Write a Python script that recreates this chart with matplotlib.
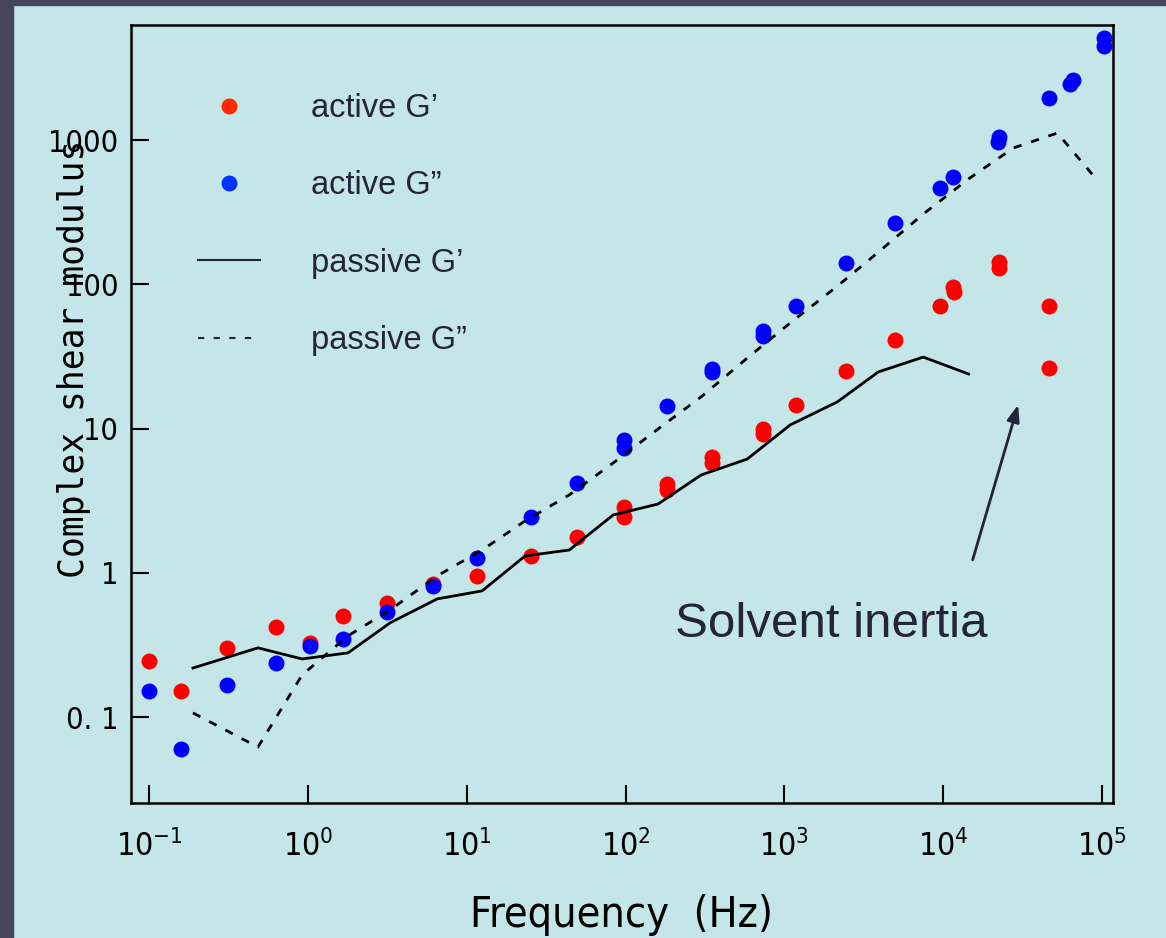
import numpy as np
import matplotlib
matplotlib.use("Agg")
import matplotlib.pyplot as plt
from matplotlib import font_manager
from matplotlib.font_manager import FontProperties
from matplotlib.lines import Line2D
from matplotlib.patches import Rectangle

# === data ===
freq_active_gp = [0.1, 0.159, 0.31, 0.63, 1.03, 1.67, 3.16, 6.1, 11.6, 25.5, 49.5,
                  98, 98, 183, 183, 351, 351, 736, 736, 1186, 2450, 4930, 9570,
                  11500, 11700, 22300, 22400, 46200, 46200]
active_gp = [0.245, 0.152, 0.30, 0.42, 0.328, 0.50, 0.62, 0.84, 0.95, 1.31, 1.78,
             2.86, 2.44, 4.13, 3.75, 6.35, 5.78, 9.93, 9.18, 14.6, 25, 41, 70.8,
             95.7, 88.5, 143, 130, 71, 26.3]

freq_active_gpp = [0.1, 0.159, 0.31, 0.63, 1.03, 1.67, 3.16, 6.1, 11.6, 25.5, 49.5,
                   98, 98, 183, 351, 351, 736, 736, 1186, 2450, 4930, 9570, 11500,
                   22300, 22100, 46200, 63000, 65500, 103000, 103000]
active_gpp = [0.152, 0.060, 0.167, 0.238, 0.311, 0.348, 0.535, 0.81, 1.27, 2.44, 4.2,
              8.3, 7.3, 14.4, 25.9, 24.7, 47.5, 43.8, 70.8, 141, 265, 467, 551,
              1050, 968, 1963, 2450, 2620, 5090, 4500]

freq_passive_gp = [0.189, 0.485, 0.92, 1.79, 3.29, 6.52, 12.5, 23.3, 44.2, 83.6, 160,
                   299, 583, 1087, 2150, 3900, 7480, 14400]
passive_gp = [0.219, 0.302, 0.253, 0.279, 0.45, 0.66, 0.75, 1.31, 1.44, 2.52, 3.0,
              4.77, 6.15, 10.6, 15.3, 24.7, 31.3, 23.9]

freq_passive_gpp = [0.189, 0.485, 0.92, 1.79, 3.29, 6.52, 12.5, 23.3, 44.2, 83.6, 160,
                    299, 583, 1087, 2150, 3900, 7480, 14400, 27600, 52200, 90600]
passive_gpp = [0.107, 0.062, 0.196, 0.366, 0.553, 0.953, 1.44, 2.29, 3.47, 5.78, 9.93,
               16.6, 30.8, 54, 97, 167, 307, 537, 881, 1118, 546]

series_labels = ["active G\u2019", "active G\u201d", "passive G\u2019", "passive G\u201d"]
ytick_vals = [0.1, 1, 10, 100, 1000]
ytick_labels = ["0. 1", "1", "10", "100", "1000"]
xtick_vals = [1e-1, 1e0, 1e1, 1e2, 1e3, 1e4, 1e5]

# === fonts: look for a condensed face, else fall back to Liberation Sans ===
narrow_path = None
for f in font_manager.fontManager.ttflist:
    if "Narrow" in f.name or "Condensed" in f.name or f.stretch in ("condensed", "semi-condensed"):
        if f.weight in ("normal", 400, "regular", "book") and f.style == "normal":
            narrow_path = f.fname
            break
if narrow_path:
    xtick_font = FontProperties(fname=narrow_path, size=23)
    ytick_font = FontProperties(fname=narrow_path, size=22)
    xlabel_font = FontProperties(fname=narrow_path, size=31)
    math_name = FontProperties(fname=narrow_path).get_name()
else:
    xtick_font = FontProperties(family="Liberation Sans", size=21)
    ytick_font = FontProperties(family="Liberation Sans", size=21)
    xlabel_font = FontProperties(family="Liberation Sans", size=30)
    math_name = "Liberation Sans"
plt.rcParams["mathtext.fontset"] = "custom"
for key in ("rm", "it", "bf", "sf"):
    plt.rcParams["mathtext." + key] = math_name

bg = "#c4e6e8"
dark = "#46465a"
ink = "#24243a"
red = "#ff0000"
blue = "#0000ff"

fig = plt.figure(figsize=(11.66, 9.38), dpi=100, facecolor=bg)
# slide border
fig.patches.append(Rectangle((0, 0), 13 / 1166, 1, transform=fig.transFigure,
                             color=dark, zorder=0))
fig.patches.append(Rectangle((0, 1 - 5 / 938), 1, 5 / 938, transform=fig.transFigure,
                             color=dark, zorder=0))

ax = fig.add_axes([131 / 1166, 135 / 938, 982 / 1166, 778 / 938])
ax.set_facecolor(bg)

ax.plot(freq_active_gp, active_gp, "o", color=red, ms=11.5, mew=0, zorder=3)
ax.plot(freq_active_gpp, active_gpp, "o", color=blue, ms=11.5, mew=0, zorder=4)
ax.plot(freq_passive_gp, passive_gp, "-", color="black", lw=2.0, zorder=5)
ax.plot(freq_passive_gpp, passive_gpp, color="black", lw=2.0,
        linestyle=(0, (3.0, 3.6)), zorder=5)

ax.set_xscale("log")
ax.set_yscale("log")
ax.set_xlim(0.077, 1.17e5)
ax.set_ylim(0.0254, 6270)

ax.set_xticks(xtick_vals)
ax.set_yticks(ytick_vals)
ax.set_yticklabels(ytick_labels)
ax.minorticks_off()
ax.tick_params(axis="both", direction="in", length=13, width=1.5, colors="black")
ax.tick_params(axis="x", pad=20)
ax.tick_params(axis="y", pad=9)
for lab in ax.get_yticklabels():
    lab.set_fontproperties(ytick_font)
for lab in ax.get_xticklabels():
    lab.set_fontproperties(xtick_font)
for sp in ax.spines.values():
    sp.set_linewidth(1.8)

ax.set_xlabel("Frequency  (Hz)", fontproperties=xlabel_font, labelpad=22)
ax.set_ylabel("Complex shear modulus", fontsize=25, family="DejaVu Sans Mono")
ax.yaxis.set_label_coords(-0.041, 0.571)

# legend
handles = [
    Line2D([], [], marker="o", ls="none", color="#ff2a00", ms=11.5, mew=0),
    Line2D([], [], marker="o", ls="none", color="#0033ff", ms=11.5, mew=0),
    Line2D([], [], color=ink, lw=1.5),
    Line2D([], [], color=ink, lw=1.5, linestyle=(0, (3, 4.5))),
]
leg = ax.legend(handles, series_labels, loc="upper left",
                bbox_to_anchor=(67 / 982, 710 / 778), frameon=False,
                prop={"family": "Liberation Sans", "size": 23.5},
                handlelength=1.9, handletextpad=1.55, labelspacing=1.42,
                borderpad=0, borderaxespad=0)
for t in leg.get_texts():
    t.set_color(ink)

# annotation
ax.text(205, 0.36, "Solvent inertia", fontsize=35.5, family="Liberation Sans",
        color=ink, va="baseline", ha="left")
ax.annotate("", xy=(29600, 14.6), xytext=(15300, 1.23),
            arrowprops=dict(arrowstyle="-|>,head_length=1.0,head_width=0.38",
                            color=ink, lw=2, shrinkA=0, shrinkB=0))

fig.savefig("out.png", dpi=100, facecolor=bg)
